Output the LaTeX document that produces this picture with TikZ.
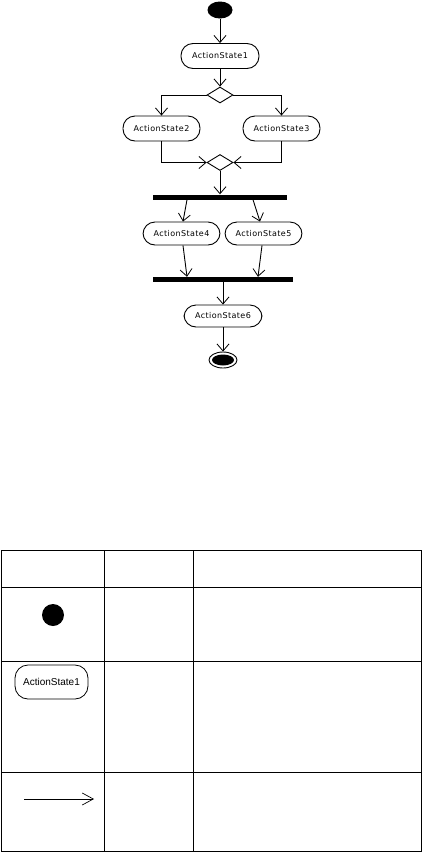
\documentclass[tikz,border=0pt]{standalone}
\usepackage{fontspec}
\setmainfont{Liberation Sans}
\usetikzlibrary{shapes.geometric,arrows.meta,calc}
\newfontfamily\pixfont[LetterSpace=5]{DejaVu Sans}
\tikzset{
  lw/.style={line width=0.9pt},
  arr/.style={lw,-{Straight Barb[length=7pt,width=12pt,line width=0.8pt]}},
  actstate/.style={lw,draw,rectangle,rounded corners=12pt,minimum width=78pt,minimum height=25pt,inner sep=0pt,font=\pixfont\fontsize{8}{9}\selectfont},
  dec/.style={lw,draw,diamond,aspect=1.625,minimum width=26pt,minimum height=16pt,inner sep=0pt},
  bar/.style={fill=black,rectangle,inner sep=0pt,minimum height=5pt},
  startst/.style={fill=black,ellipse,minimum width=25pt,minimum height=17pt,inner sep=0pt},
  grid/.style={line width=1pt}
}
\begin{document}
\begin{tikzpicture}[x=1pt,y=-1pt]
\useasboundingbox (0,0) rectangle (422,852);
% diagram
\node[startst] (start) at (220,10) {};
\node[actstate] (as1) at (220,56) {ActionState1};
\node[dec] (d1) at (220,95) {};
\node[actstate,minimum width=77pt] (as2) at (161.5,128.5) {ActionState2};
\node[actstate,minimum width=77pt] (as3) at (281.5,128.5) {ActionState3};
\node[dec] (d2) at (220,162.5) {};
\node[bar,minimum width=134pt] (bar1) at (220,197) {};
\node[actstate,minimum width=77pt,minimum height=23pt] (as4) at (181.5,233.5) {ActionState4};
\node[actstate,minimum width=77pt,minimum height=23pt] (as5) at (263.5,233.5) {ActionState5};
\node[bar,minimum width=140pt] (bar2) at (223,279.5) {};
\node[actstate,minimum height=22pt] (as6) at (223,316) {ActionState6};
\node[lw,draw,ellipse,minimum width=28pt,minimum height=16pt,inner sep=0pt] (fin) at (223,360) {};
\node[fill=black,ellipse,minimum width=22pt,minimum height=11pt,inner sep=0pt] (fininner) at (223,360) {};

\draw[arr] (start) -- (as1);
\draw[arr] (as1) -- (d1);
\draw[arr] (d1.west) -| (as2.north);
\draw[arr] (d1.east) -| (as3.north);
\draw[arr] (as2.south) |- (d2.west);
\draw[arr] (as3.south) |- (d2.east);
\draw[arr] (d2.south) -- (bar1.north);
\draw[arr] ($(bar1.south)+(-33,0)$) -- ($(as4.north)+(1.5,0)$);
\draw[arr] ($(bar1.south)+(33,0)$) -- ($(as5.north)+(-3.5,0)$);
\draw[arr] ($(as4.south)+(1.5,0)$) -- ($(bar2.north)+(-36,0)$);
\draw[arr] ($(as5.south)+(-1.5,0)$) -- ($(bar2.north)+(35,0)$);
\draw[arr] (bar2.south) -- (as6.north);
\draw[arr] (as6.south) -- (fin.north);

% table
\draw[grid] (1.5,550) rectangle (421,851);
\draw[grid] (104,550) -- (104,851);
\draw[grid] (193,550) -- (193,851);
\draw[grid] (1.5,587) -- (421,587);
\draw[grid] (1.5,661) -- (421,661);
\draw[grid] (1.5,772) -- (421,772);
\node[fill=black,circle,minimum size=22pt,inner sep=0pt] (legstart) at (53,615) {};
\node[draw,line width=0.8pt,rectangle,rounded corners=13pt,minimum width=73pt,minimum height=34pt,inner sep=0pt,font=\fontsize{10}{12}\selectfont] (legas) at (51.5,682) {ActionState1};
\coordinate (la) at (24,799);
\coordinate (lb) at (94,799);
\draw[line width=0.8pt,-{Straight Barb[length=11pt,width=12pt,line width=0.7pt]}] (la) -- (lb);
\end{tikzpicture}
\end{document}
